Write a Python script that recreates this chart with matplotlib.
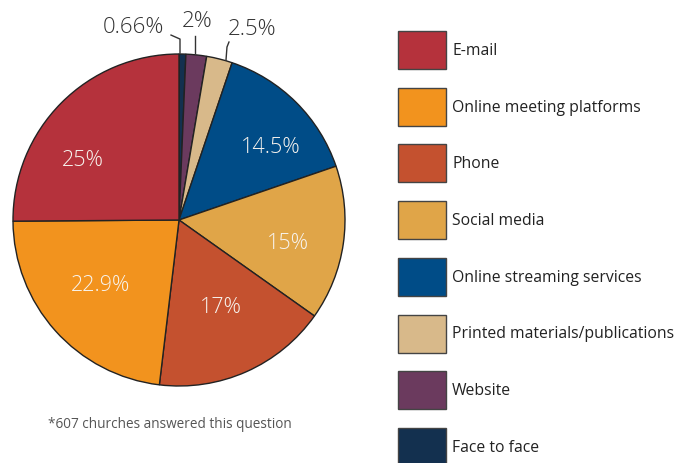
import matplotlib
matplotlib.use("Agg")
import matplotlib.pyplot as plt
from matplotlib.patches import Rectangle

categories = ["Face to face", "Website", "Printed materials/publications",
              "Online streaming services", "Social media", "Phone",
              "Online meeting platforms", "E-mail"]
values = [0.66, 2, 2.5, 14.5, 15, 17, 22.9, 25]
pct_labels = ["0.66%", "2%", "2.5%", "14.5%", "15%", "17%", "22.9%", "25%"]
colors = ["#13304F", "#6B3A5E", "#D8B98A", "#004C87", "#E0A548", "#C4512F",
          "#F2931E", "#B5323C"]
legend_order = ["E-mail", "Online meeting platforms", "Phone", "Social media",
                "Online streaming services", "Printed materials/publications",
                "Website", "Face to face"]
footnote = "*607 churches answered this question"

FONT = ["Open Sans", "DejaVu Sans"]
W, H = 680, 464
fig = plt.figure(figsize=(W / 100, H / 100), dpi=100)

cx, cy, r = 179, 221, 166
ax = fig.add_axes([(cx - r) / W, (H - cy - r) / H, 2 * r / W, 2 * r / H])
ax.pie(values, colors=colors, startangle=90, counterclock=False,
       wedgeprops=dict(edgecolor="#222222", linewidth=1.0))
ax.set_xlim(-1, 1)
ax.set_ylim(-1, 1)
ax.set_aspect("equal")
ax.axis("off")

# label positions (axes data units), inside and outside
inner_pos = {"14.5%": (0.554, 0.440), "15%": (0.657, -0.133),
             "17%": (0.253, -0.524), "22.9%": (-0.470, -0.386),
             "25%": (-0.578, 0.367)}
outer_pos = {"0.66%": (-0.277, 1.163), "2%": (0.108, 1.199),
             "2.5%": (0.440, 1.151)}
for lab in pct_labels:
    if lab in inner_pos:
        x, y = inner_pos[lab]
        ax.text(x, y, lab, color="#F7F3EE", fontsize=15.5, ha="center",
                va="center", family=FONT, fontweight="light")
    else:
        x, y = outer_pos[lab]
        ax.text(x, y, lab, color="#333333", fontsize=16, ha="center",
                va="center", family=FONT, fontweight="light", clip_on=False)

leaders = [[(-0.048, 1.114), (0.006, 1.090), (0.006, 1.006)],
           [(0.096, 1.108), (0.096, 1.006)],
           [(0.301, 1.072), (0.289, 1.042), (0.283, 0.962)]]
for pts in leaders:
    xs, ys = zip(*pts)
    ax.plot(xs, ys, color="#333333", lw=1.0, clip_on=False)

# overlay axes in pixel coordinates for legend & footnote
ov = fig.add_axes([0, 0, 1, 1])
ov.set_xlim(0, W)
ov.set_ylim(H, 0)
ov.axis("off")
for i, name in enumerate(legend_order):
    col = colors[categories.index(name)]
    y0 = 32 + i * 56.7
    ov.add_patch(Rectangle((398, y0), 48, 38, facecolor=col,
                           edgecolor="#444444", lw=1.0, clip_on=False))
    ov.text(452, y0 + 19, name, color="#222222", fontsize=11.3, va="center",
            ha="left", family=FONT)

ov.text(48, 425, footnote, color="#555555", fontsize=9.8, va="center",
        ha="left", family=FONT)

fig.savefig("out.png", dpi=100)
